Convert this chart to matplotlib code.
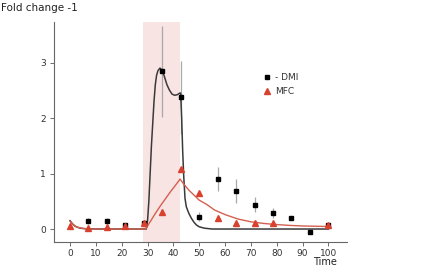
import numpy as np
import matplotlib
matplotlib.use("Agg")
import matplotlib.pyplot as plt

# measured points
t_pts = [0, 7.14, 14.3, 21.4, 28.6, 35.7, 42.9, 50, 57.1, 64.3, 71.4, 78.6, 85.7, 92.9, 100]
dmi = [np.nan, 0.14, 0.14, 0.08, 0.11, 2.84, 2.37, 0.22, 0.90, 0.68, 0.44, 0.29, 0.20, -0.05, 0.07]
dmi_err = [0, 0.05, 0.05, 0.03, 0.03, 0.82, 0.65, 0.08, 0.22, 0.22, 0.14, 0.09, 0.04, 0.02, 0.02]
mfc = [0.05, 0.02, 0.03, 0.05, 0.10, 0.30, 1.08, 0.65, 0.19, 0.10, 0.11, 0.11, np.nan, np.nan, 0.08]

# model curves
dmi_fit_t = [0, 1, 2, 3, 4, 6, 10, 29.5, 30, 30.5, 31, 31.5, 32, 32.5, 33, 33.5, 34, 34.8,
             35.5, 36.5, 37.5, 38.5, 39.5, 40.5, 41.5, 42.5, 42.8, 43.2, 43.6, 44, 44.5,
             45, 46, 47, 48, 49, 50, 52, 55, 100]
dmi_fit = [0.15, 0.09, 0.05, 0.03, 0.015, 0.005, 0, 0, 0.15, 0.5, 1.0, 1.5, 1.9, 2.3, 2.6,
           2.77, 2.85, 2.9, 2.87, 2.75, 2.6, 2.5, 2.43, 2.41, 2.42, 2.45, 2.45, 2.0, 1.4,
           0.95, 0.55, 0.4, 0.28, 0.19, 0.12, 0.07, 0.04, 0.015, 0.0, 0.0]
mfc_fit_t = [0, 1, 2, 3, 5, 8, 29.3, 31, 33, 35, 37, 39, 41, 42.6, 44, 46, 48, 50, 53, 56,
             60, 65, 70, 75, 80, 85, 90, 100]
mfc_fit = [0.14, 0.09, 0.05, 0.03, 0.01, 0.0, 0.0, 0.13, 0.28, 0.42, 0.55, 0.68, 0.80, 0.90,
           0.81, 0.70, 0.61, 0.52, 0.44, 0.34, 0.26, 0.18, 0.13, 0.10, 0.08, 0.065, 0.055, 0.045]

pulse = (28.4, 42.6)

fig = plt.figure(figsize=(4.23, 2.67), dpi=100)
ax = fig.add_axes([0.1277, 0.0936, 0.6927, 0.824])

ax.axvspan(pulse[0], pulse[1], color='#f9e4e4', lw=0, zorder=0)

ax.plot(dmi_fit_t, dmi_fit, color='#3a3a3a', lw=1.1, zorder=2)
ax.plot(mfc_fit_t, mfc_fit, color='#d4604f', lw=1.0, zorder=2)

ax.errorbar(t_pts, dmi, yerr=dmi_err, fmt='none', ecolor='#a8a8a8', elinewidth=0.9, zorder=1)
ax.plot(t_pts, dmi, 's', color='black', ms=3.5, label='- DMI', zorder=3)
ax.plot(t_pts, mfc, '^', color='#d9412f', ms=4.0, label='MFC', zorder=4)

ax.set_xlim(-6.2, 107.2)
ax.set_ylim(-0.234, 3.73)
ax.set_xticks(np.arange(0, 101, 10))
ax.set_yticks([0, 1, 2, 3])

for s in ['top', 'right']:
    ax.spines[s].set_visible(False)
for s in ['left', 'bottom']:
    ax.spines[s].set_color('#666666')
    ax.spines[s].set_linewidth(0.8)
ax.tick_params(labelsize=6.5, colors='#555555', labelcolor='#333333', length=3, width=0.6, pad=3)
ax.tick_params(axis='x', pad=2)

ax.legend(loc='center left', bbox_to_anchor=(0.685, 0.715), frameon=False, fontsize=6.5,
          handlelength=1.0, handletextpad=0.4, labelspacing=0.6, labelcolor='#333333')

fig.text(0.002, 0.97, 'Fold change -1', fontsize=7.5, color='#222222', va='center', ha='left')
fig.text(0.768, 0.0, 'Time', fontsize=7, color='#222222', va='bottom', ha='center')

fig.savefig('out.png', dpi=100)
